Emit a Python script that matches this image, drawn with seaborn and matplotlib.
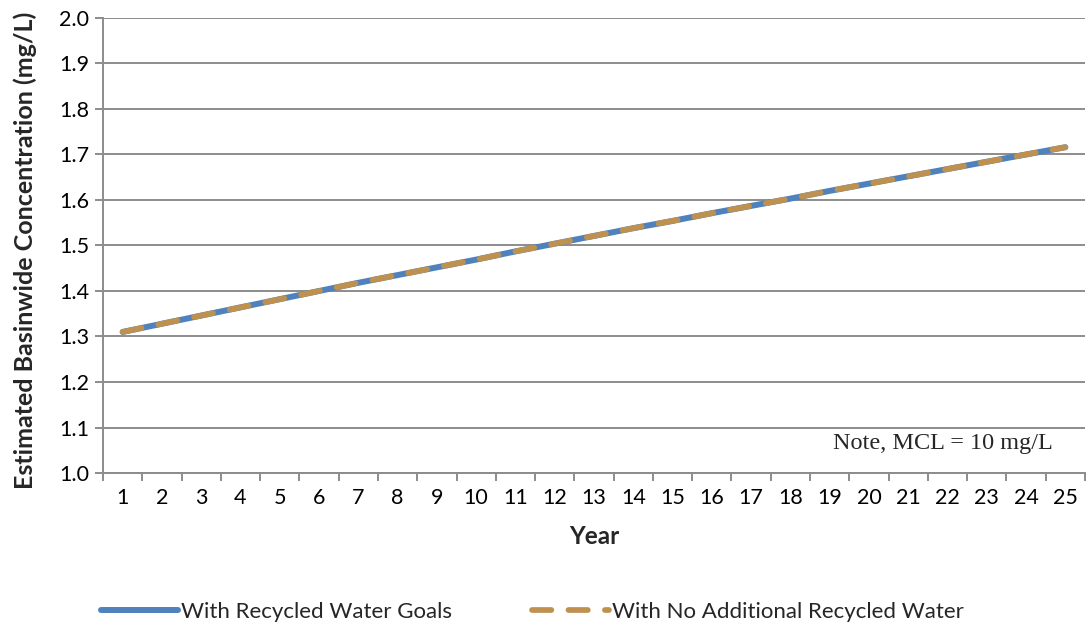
import numpy as np
import pandas as pd
import matplotlib
matplotlib.use("Agg")
import matplotlib.pyplot as plt
from matplotlib.ticker import FixedLocator
import seaborn as sns

years = list(range(1, 26))
with_goals = [1.310, 1.328, 1.346, 1.364, 1.382, 1.400, 1.418, 1.435, 1.452, 1.469,
              1.487, 1.504, 1.521, 1.538, 1.554, 1.571, 1.587, 1.603, 1.620, 1.636,
              1.652, 1.668, 1.684, 1.700, 1.716]
no_additional = [1.310, 1.328, 1.346, 1.364, 1.382, 1.400, 1.418, 1.435, 1.452, 1.469,
                 1.487, 1.504, 1.521, 1.538, 1.554, 1.571, 1.587, 1.603, 1.620, 1.636,
                 1.652, 1.668, 1.684, 1.700, 1.716]
y_ticks = [1.0, 1.1, 1.2, 1.3, 1.4, 1.5, 1.6, 1.7, 1.8, 1.9, 2.0]
series_names = ["With Recycled Water Goals", "With No Additional Recycled Water"]

sns.set_theme(style="white")
plt.rcParams["font.family"] = ["Lato", "DejaVu Sans"]

fig = plt.figure(figsize=(10.9, 6.35), dpi=100)
ax = fig.add_axes([0.0945, 0.2551, 0.9009, 0.7166])

grid_c = "#8c8c8c"
blue = "#4F81BD"
tan = "#BE914F"

df = pd.DataFrame({"Year": years, series_names[0]: with_goals,
                   series_names[1]: no_additional})

sns.lineplot(data=df, x="Year", y=series_names[0], ax=ax, color=blue,
             linewidth=4.3, solid_capstyle="round", label=series_names[0])
sns.lineplot(data=df, x="Year", y=series_names[1], ax=ax, color=tan,
             linewidth=4.1, dashes=False, label=series_names[1])
ax.lines[1].set_linestyle((0, (3.4, 3.0)))
ax.lines[1].set_dash_capstyle("round")

ax.set_ylim(1.0, 2.0)
ax.set_xlim(0.5, 25.5)
ax.set_yticks(y_ticks)
ax.set_yticklabels([f"{v:.1f}" for v in y_ticks])
ax.grid(axis="y", color=grid_c, linewidth=1.4, zorder=0)
ax.set_axisbelow(True)

for s in ["top", "right"]:
    ax.spines[s].set_visible(False)
for s in ["left", "bottom"]:
    ax.spines[s].set_color(grid_c)
    ax.spines[s].set_linewidth(1.4)

ax.set_xticks(years)
ax.set_xticklabels([str(y) for y in years])
ax.xaxis.set_minor_locator(FixedLocator(np.arange(0.5, 26, 1.0)))
ax.tick_params(axis="x", which="major", length=0, labelsize=15.5, pad=11, colors="black")
ax.tick_params(axis="x", which="minor", length=6, width=1.4, color=grid_c, bottom=True)
ax.tick_params(axis="y", which="major", length=6, width=1.4, color=grid_c,
               labelsize=15.5, pad=4, left=True, labelcolor="black")

ax.set_xlabel("Year", fontsize=17.5, fontweight="bold", labelpad=12)
ax.set_ylabel("Estimated Basinwide Concentration (mg/L)", fontsize=18,
              fontweight="bold", labelpad=16)
ax.yaxis.label.set_y(0.49)

ax.text(0.967, 0.065, "Note, MCL = 10 mg/L", transform=ax.transAxes,
        ha="right", va="center", fontsize=17.5, family="Liberation Serif")

ax.get_legend().remove()
handles = ax.lines[:2]
fig.legend(handles, series_names, loc="center left", bbox_to_anchor=(0.074, 0.036),
           ncol=2, frameon=False, fontsize=16, handlelength=3.5,
           handletextpad=0.1, columnspacing=3.6)

fig.savefig("out.png", dpi=100)
